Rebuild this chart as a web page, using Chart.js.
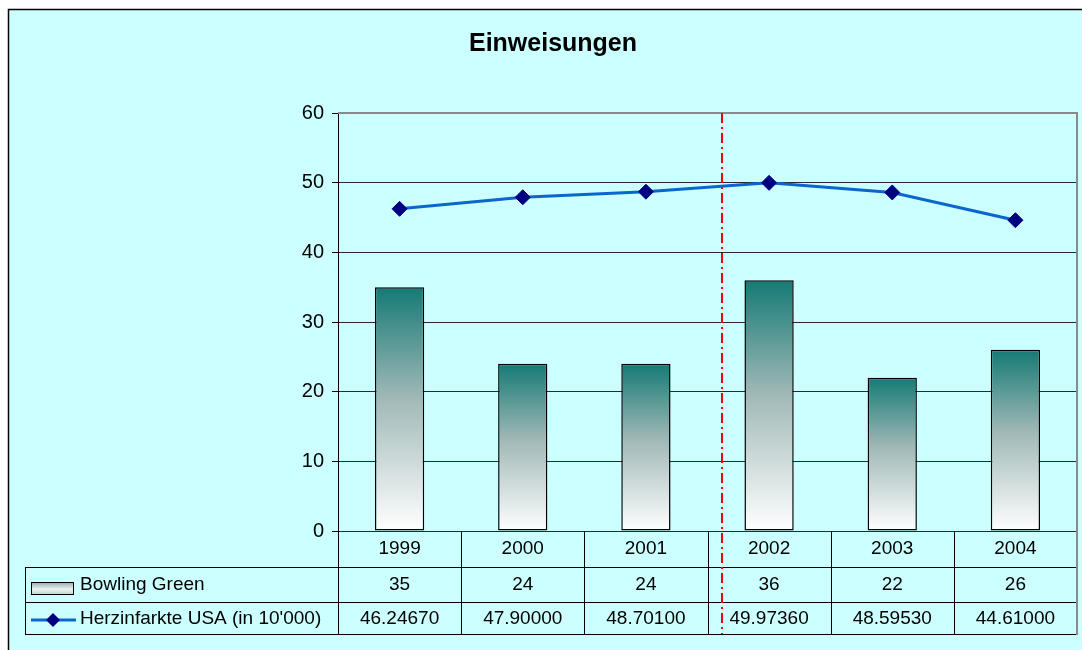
<!DOCTYPE html>
<html>
<head>
<meta charset="utf-8">
<title>Einweisungen</title>
<script src="https://cdn.jsdelivr.net/npm/chart.js@4.4.0/dist/chart.umd.min.js"></script>
<style>
  html, body { margin: 0; padding: 0; background: #fff; }
  canvas { display: block; }
</style>
</head>
<body>
<canvas id="chart" width="1082" height="650"></canvas>
<script>
// data
const years = ['1999', '2000', '2001', '2002', '2003', '2004'];
const bowlingGreen = [35, 24, 24, 36, 22, 26];
const herzinfarkte = [46.2467, 47.9, 48.701, 49.9736, 48.5953, 44.61];
const yMin = 0;
const yMax = 60;
const yStep = 10;
const seriesNames = ['Bowling Green', 'Herzinfarkte USA (in 10\'000)'];
const chartTitle = 'Einweisungen';
const dividerAt = 2.62; // red dash-dot marker, in category units

const FONT = '"Liberation Sans", Arial, sans-serif';
const BG = '#ccffff';

function barGradient(g) {
  g.addColorStop(0, '#157a75');
  g.addColorStop(0.45, '#9fb8b6');
  g.addColorStop(1, '#ffffff');
  return g;
}

function barFill(ctx) {
  const chart = ctx.chart;
  if (!chart.chartArea || ctx.type !== 'data') return '#157a75';
  const y = chart.scales.y;
  const top = y.getPixelForValue(ctx.raw);
  const bottom = y.getPixelForValue(0);
  return barGradient(chart.ctx.createLinearGradient(0, top, 0, bottom));
}

// background frame, title, data table and the red marker line
const excelFrame = {
  id: 'excelFrame',
  beforeDraw(chart) {
    const c = chart.ctx;
    c.save();
    c.fillStyle = '#fff';
    c.fillRect(0, 0, chart.width, chart.height);
    c.fillStyle = BG;
    c.fillRect(8, 9, chart.width - 8, chart.height - 9);
    c.strokeStyle = '#000';
    c.lineWidth = 1.5;
    c.beginPath();
    c.moveTo(8.5, chart.height);
    c.lineTo(8.5, 9.5);
    c.lineTo(chart.width, 9.5);
    c.stroke();
    c.restore();
  },
  afterDraw(chart) {
    const c = chart.ctx;
    const area = chart.chartArea;
    const x = chart.scales.x;
    const rowTop = 567, rowMid = 602, rowBot = 634, tableLeft = 25;
    c.save();

    // title
    c.fillStyle = '#000';
    c.font = 'bold 25px ' + FONT;
    c.textAlign = 'center';
    c.textBaseline = 'middle';
    c.fillText(chartTitle, 553, 44);

    // table grid
    c.strokeStyle = '#000';
    c.lineWidth = 1;
    c.beginPath();
    [rowTop, rowMid, rowBot].forEach(yy => {
      c.moveTo(tableLeft, yy + 0.5);
      c.lineTo(area.right, yy + 0.5);
    });
    c.moveTo(tableLeft + 0.5, rowTop);
    c.lineTo(tableLeft + 0.5, rowBot);
    for (let i = 0; i < years.length; i++) {
      const bx = Math.round(x.getPixelForValue(i - 0.5)) + 0.5;
      c.moveTo(bx, area.bottom);
      c.lineTo(bx, rowBot);
    }
    c.stroke();

    // plot border (top + right) in grey
    c.strokeStyle = '#8a8a8a';
    c.lineWidth = 2;
    c.beginPath();
    c.moveTo(area.left, area.top);
    c.lineTo(area.right, area.top);
    c.lineTo(area.right, rowBot + 1);
    c.stroke();

    // table text
    c.fillStyle = '#000';
    c.font = '19px ' + FONT;
    c.textAlign = 'center';
    years.forEach((yr, i) => {
      const cx = x.getPixelForValue(i);
      c.fillText(yr, cx, 549);
      c.fillText(String(bowlingGreen[i]), cx, 585);
      c.fillText(herzinfarkte[i].toFixed(5), cx, 619);
    });

    // legend keys in the table
    c.textAlign = 'left';
    c.fillText(seriesNames[0], 80, 585);
    c.fillText(seriesNames[1], 80, 619);
    const g = c.createLinearGradient(0, 582, 0, 594);
    g.addColorStop(0, '#8fabaa');
    g.addColorStop(0.6, '#eef2f2');
    g.addColorStop(1, '#c8d4d4');
    c.fillStyle = g;
    c.fillRect(31, 582, 42, 12);
    c.strokeStyle = '#000';
    c.lineWidth = 1;
    c.strokeRect(31.5, 582.5, 42, 12);
    c.strokeStyle = '#0a66cc';
    c.lineWidth = 3;
    c.beginPath();
    c.moveTo(31, 620);
    c.lineTo(76, 620);
    c.stroke();
    c.fillStyle = '#000080';
    c.beginPath();
    c.moveTo(53, 613);
    c.lineTo(60, 620);
    c.lineTo(53, 627);
    c.lineTo(46, 620);
    c.closePath();
    c.fill();

    // red dash-dot divider
    const dx = Math.round(x.getPixelForValue(dividerAt));
    c.strokeStyle = '#ff0000';
    c.lineWidth = 2;
    c.setLineDash([10, 4, 2, 4]);
    c.beginPath();
    c.moveTo(dx, area.top);
    c.lineTo(dx, rowBot);
    c.stroke();
    c.restore();
  }
};

new Chart(document.getElementById('chart'), {
  data: {
    labels: years,
    datasets: [
      {
        type: 'line',
        label: seriesNames[1],
        data: herzinfarkte,
        order: 0,
        borderColor: '#0a66cc',
        borderWidth: 3,
        tension: 0,
        pointStyle: 'rectRot',
        pointRadius: 7.5,
        pointBackgroundColor: '#000080',
        pointBorderColor: '#000080',
        pointBorderWidth: 1
      },
      {
        type: 'bar',
        label: seriesNames[0],
        data: bowlingGreen,
        order: 1,
        backgroundColor: barFill,
        borderColor: '#000',
        borderWidth: 1.5,
        borderSkipped: false,
        barPercentage: 0.4,
        categoryPercentage: 1
      }
    ]
  },
  options: {
    responsive: false,
    animation: false,
    layout: { autoPadding: false, padding: { left: 278, top: 113, right: 5, bottom: 119 } },
    plugins: {
      legend: { display: false },
      title: { display: false },
      tooltip: { enabled: false }
    },
    scales: {
      x: { type: 'category', display: false, offset: true },
      y: {
        min: yMin,
        max: yMax,
        afterFit(scale) { scale.width = 60; },
        border: { display: true, color: '#000', width: 1 },
        grid: {
          color: ctx => (ctx.tick && ctx.tick.value === yMax ? 'rgba(0,0,0,0)' : '#2a2a2a'),
          tickColor: '#000',
          tickLength: 6,
          lineWidth: 1
        },
        ticks: {
          stepSize: yStep,
          padding: 8,
          color: '#000',
          font: { family: FONT, size: 20 }
        }
      }
    }
  },
  plugins: [excelFrame]
});
</script>
</body>
</html>
